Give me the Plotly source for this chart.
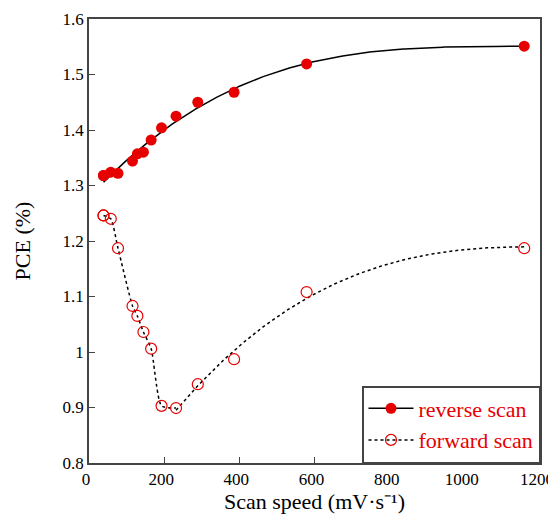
import numpy as np
import plotly.graph_objects as go

# Data
scan_speed = [38.6, 57.9, 77.2, 115.8, 128.7, 144.8, 165.4, 193.0, 231.6, 289.5, 386.0, 579.0, 1158.0]
pce_reverse = [1.318, 1.324, 1.322, 1.344, 1.357, 1.360, 1.382, 1.404, 1.425, 1.450, 1.468, 1.519, 1.551]
pce_forward = [1.246, 1.240, 1.187, 1.083, 1.065, 1.036, 1.006, 0.903, 0.899, 0.942, 0.987, 1.108, 1.187]

x_ticks = [0, 200, 400, 600, 800, 1000, 1200]
y_ticks = [0.8, 0.9, 1.0, 1.1, 1.2, 1.3, 1.4, 1.5, 1.6]

xs = np.array(scan_speed)
yr = np.array(pce_reverse)
yf = np.array(pce_forward)

# Fit curve for reverse scan (cubic polynomial fit of the data)
rev_coef = np.polyfit(xs, yr, 3)
xr_fit = np.linspace(xs[0], xs[-1], 300)
yr_fit = np.polyval(rev_coef, xr_fit)

# Fit curve for forward scan, rising branch: y = c0 + c1*d^2 + c2*d^3, d = xmax - x
d = xs[-1] - xs[8:]
A = np.vstack([np.ones_like(d), d**2, d**3]).T
coef, *_ = np.linalg.lstsq(A, yf[8:], rcond=None)
xf_fit = np.linspace(xs[8], xs[-1], 300)
df = xs[-1] - xf_fit
yf_fit = coef[0] + coef[1] * df**2 + coef[2] * df**3

RED = "#e60000"
FONT = "Liberation Serif, Times New Roman, serif"
AX = "#444444"

fig = go.Figure()

fig.add_trace(go.Scatter(x=xr_fit.tolist(), y=yr_fit.tolist(), mode="lines",
                         line=dict(color="black", width=1.5), showlegend=False))
fig.add_trace(go.Scatter(x=scan_speed[:9], y=pce_forward[:9], mode="lines",
                         line=dict(color="black", width=1.5, dash="dot", shape="spline", smoothing=0.6),
                         showlegend=False))
fig.add_trace(go.Scatter(x=xf_fit.tolist(), y=yf_fit.tolist(), mode="lines",
                         line=dict(color="black", width=1.5, dash="dot"),
                         showlegend=False))

fig.add_trace(go.Scatter(x=scan_speed, y=pce_reverse, mode="markers", name="reverse scan",
                         marker=dict(color=RED, size=11, symbol="circle"), showlegend=False))
fig.add_trace(go.Scatter(x=scan_speed, y=pce_forward, mode="markers", name="forward scan",
                         marker=dict(color=RED, size=11, symbol="circle-open", line=dict(width=1.2, color=RED)),
                         showlegend=False))

# legend entries (line + marker samples); single real point, drawn over the existing marker
fig.add_trace(go.Scatter(x=scan_speed[:1], y=pce_reverse[:1], mode="lines+markers", name="reverse scan",
                         line=dict(color="black", width=1.5),
                         marker=dict(color=RED, size=11, symbol="circle")))
fig.add_trace(go.Scatter(x=scan_speed[:1], y=pce_forward[:1], mode="lines+markers", name="forward scan",
                         line=dict(color="black", width=1.5, dash="dot"),
                         marker=dict(color=RED, size=11, symbol="circle-open", line=dict(width=1.2, color=RED))))

# The page body has an 8px default margin; margins place the plot area
# where it is in the reference (x 89..540, y 19..463).
fig.update_layout(
    template="none",
    width=556, height=525,
    margin=dict(l=81, r=24, t=11, b=70),
    paper_bgcolor="white", plot_bgcolor="white",
    font=dict(family=FONT, size=17, color="black"),
    showlegend=True,
    legend=dict(x=1, y=0, xanchor="right", yanchor="bottom",
                bgcolor="white", bordercolor=AX, borderwidth=1.5,
                font=dict(family=FONT, size=22, color=RED),
                tracegroupgap=0, itemwidth=45),
    xaxis=dict(range=[0, 1200], tickvals=x_ticks, ticks="inside", ticklen=6, tickwidth=1.2,
               tickcolor=AX, showline=True, linecolor=AX, linewidth=1.5, mirror=True,
               showgrid=False, zeroline=False, automargin=False, ticklabeloverflow="allow",
               ticklabelshift=-3,
               tickfont=dict(family=FONT, size=17, color="black"),
               title=dict(text="Scan speed (mV·s⁻¹)",
                          font=dict(family=FONT, size=22, color="black"), standoff=5)),
    yaxis=dict(range=[0.8, 1.6], tickvals=y_ticks, ticks="inside", ticklen=6, tickwidth=1.2,
               tickcolor=AX, showline=True, linecolor=AX, linewidth=1.5, mirror=True,
               showgrid=False, zeroline=False, automargin=False, ticklabeloverflow="allow",
               tickfont=dict(family=FONT, size=17, color="black"),
               title=dict(text="PCE (%)",
                          font=dict(family=FONT, size=22, color="black"), standoff=26)),
)

fig.write_html("out.html")
